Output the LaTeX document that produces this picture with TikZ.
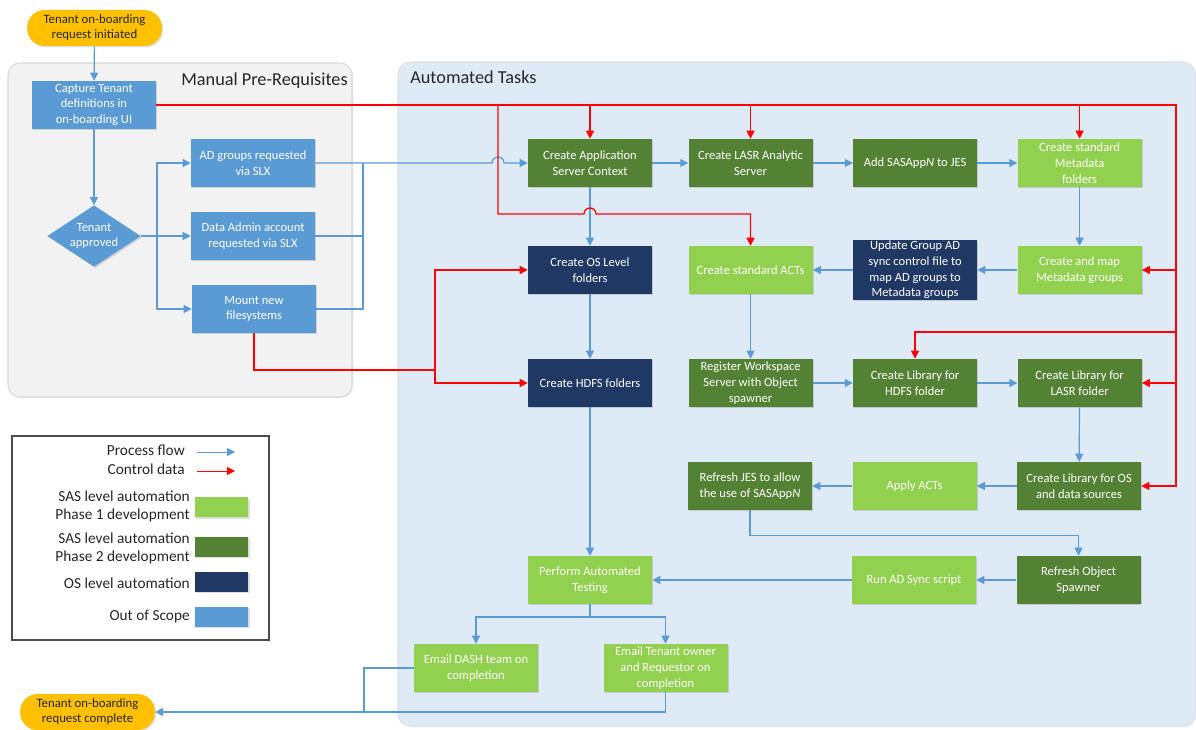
\documentclass[tikz,border=0pt]{standalone}
\usepackage{fontspec}
\setmainfont{Carlito}
\usepackage{tikz}
\usetikzlibrary{positioning, arrows.meta, shapes.geometric, shadows}

\definecolor{scopeblue}{HTML}{5B9BD5}
\definecolor{p1green}{HTML}{92D050}
\definecolor{p2green}{HTML}{548235}
\definecolor{osnavy}{HTML}{203864}
\definecolor{startorange}{HTML}{FFC000}
\definecolor{flowblue}{HTML}{5B9BD5}
\definecolor{ctrlred}{HTML}{FF0000}
\definecolor{manualgray}{HTML}{F2F2F2}
\definecolor{autoblue}{HTML}{DEEBF7}

\tikzset{
	task/.style={rectangle, minimum width=93pt, minimum height=36pt, inner xsep=1pt, inner ysep=0.5pt, align=center, text=white, font=\fontsize{9.4}{11.8}\selectfont, drop shadow={shadow xshift=1pt, shadow yshift=-1pt, opacity=0.3}},
	outbox/.style={task, fill=scopeblue},
	p1box/.style={task, fill=p1green},
	p2box/.style={task, fill=p2green},
	osbox/.style={task, fill=osnavy},
	terminal/.style={rectangle, rounded corners=13pt, fill=startorange, minimum width=101pt, minimum height=27pt, inner sep=1pt, align=center, text=black!85, font=\fontsize{9.6}{11.3}\selectfont, drop shadow={shadow xshift=1pt, shadow yshift=-1pt, opacity=0.25}},
	flow/.style={draw=flowblue, line width=0.9pt, -{Triangle[length=6pt,width=6pt]}},
	ctrl/.style={draw=ctrlred, line width=1pt, -{Triangle[length=6pt,width=6pt]}},
	panel/.style={rounded corners=9pt, line width=0.8pt, drop shadow={shadow xshift=1pt, shadow yshift=-1pt, opacity=0.15}},
	heading/.style={font=\fontsize{13.7}{16}\selectfont, text=black!85, inner sep=0pt},
	legendtext/.style={align=right, text=black!85, font=\fontsize{11.5}{13.5}\selectfont, inner sep=0pt},
	swatch/.style={minimum width=40pt, minimum height=15pt, inner sep=0pt, drop shadow={shadow xshift=1pt, shadow yshift=-1pt, opacity=0.25}}
}

\begin{document}
\begin{tikzpicture}[x=0.75pt, y=-0.75pt]
			\useasboundingbox (0,0) rectangle (1196,730);
			
			\draw[panel, draw=black!15, fill=manualgray] (8,63) rectangle (352,397);
			\draw[panel, draw=black!12, fill=autoblue] (398,62) rectangle (1195,726);
			\node[heading, anchor=east] (manualtitle) at (348,81) {Manual Pre-Requisites};
			\node[heading, anchor=west] (autotitle) at (410,77) {Automated Tasks};
			
			\node[terminal] (start) at (94.5,28) {Tenant on-boarding\\request initiated};
			\node[terminal] (finish) at (87.5,712) {Tenant on-boarding\\request complete};
			
			\node[outbox] (capture) at (94,105) {Capture Tenant\\definitions in\\on-boarding UI};
			\node[outbox, diamond, minimum width=70pt, minimum height=46pt, aspect=1.5, inner sep=0pt] (approved) at (94,236) {Tenant\\approved};
			\node[outbox] (adgroups) at (253,163) {AD groups requested\\via SLX};
			\node[outbox] (dataadmin) at (253,236) {Data Admin account\\requested via SLX};
			\node[outbox] (mountfs) at (254,309) {Mount new\\filesystems};
			
			\node[p2box] (app) at (590,163) {Create Application\\Server Context};
			\node[p2box, right=27pt of app] (lasr) {Create LASR Analytic\\Server};
			\node[p2box, right=30pt of lasr] (jes) {Add SASApp\textit{N} to JES};
			\node[p1box, right=30pt of jes] (mdfolders) {Create standard\\Metadata\\folders};
			
			\node[osbox] (oslevel) at (590,270) {Create OS Level\\folders};
			\node[p1box, right=27pt of oslevel] (acts) {Create standard ACTs};
			\node[osbox, right=30pt of acts] (adsync) {Update Group AD\\sync control file to\\map AD groups to\\Metadata groups};
			\node[p1box, right=30pt of adsync] (mdgroups) {Create and map\\Metadata groups};
			
			\node[osbox] (hdfs) at (590,383) {Create HDFS folders};
			\node[p2box, right=27pt of hdfs] (workspace) {Register Workspace\\Server with Object\\spawner};
			\node[p2box, right=30pt of workspace] (libhdfs) {Create Library for\\HDFS folder};
			\node[p2box, right=30pt of libhdfs] (liblasr) {Create Library for\\LASR folder};
			
			\node[p2box] (refjes) at (750,486) {Refresh JES to allow\\the use of SASApp\textit{N}};
			\node[p1box, right=30pt of refjes] (applyacts) {Apply ACTs};
			\node[p2box, right=30pt of applyacts] (libos) {Create Library for OS\\and data sources};
			
			\node[p1box] (testing) at (590,580) {Perform Automated\\Testing};
			\node[p1box] (runsync) at (914,580) {Run AD Sync script};
			\node[p2box, right=30pt of runsync] (refobj) {Refresh Object\\Spawner};
			
			\node[p1box] (maildash) at (476,668) {Email DASH team on\\completion};
			\node[p1box] (mailowner) at (665.5,668) {Email Tenant owner\\and Requestor on\\completion};
			
			\coordinate (split) at (157,236);
			\coordinate (merge) at (363,163);
			\coordinate (trunk) at (1176,105);
			\coordinate (tap) at (498,105);
			\coordinate (bend) at (498,214);
			\coordinate (hdfstap) at (1176,332);
			\coordinate (osjoin) at (435,370);
			\coordinate (fork) at (590,617);
			\coordinate (drop) at (364,712);
			
			\draw[flow] (start) -- (capture);
			\draw[flow] (capture) -- (approved);
			\draw[flow] (approved) -- (dataadmin);
			\draw[flow] (split) |- (adgroups.west);
			\draw[flow] (split) |- (mountfs.west);
			\draw[flow] (adgroups.east) -- (492,163) arc[start angle=180, end angle=0, radius=4.5pt] -- (app.west);
			\draw[flow, -] (dataadmin.east) -| (merge);
			\draw[flow, -] (mountfs.east) -| (merge);
			
			\draw[flow] (app) -- (lasr);
			\draw[flow] (lasr) -- (jes);
			\draw[flow] (jes) -- (mdfolders);
			\draw[flow] (mdfolders) -- (mdgroups);
			\draw[flow] (mdgroups) -- (adsync);
			\draw[flow] (adsync) -- (acts);
			\draw[flow] (acts) -- (workspace);
			\draw[flow] (workspace) -- (libhdfs);
			\draw[flow] (libhdfs) -- (liblasr);
			\draw[flow] (liblasr) -- (libos);
			\draw[flow] (libos) -- (applyacts);
			\draw[flow] (applyacts) -- (refjes);
			\draw[flow] (refjes.south) -- ++(0,25) -| (refobj.north);
			\draw[flow] (refobj) -- (runsync);
			\draw[flow] (runsync) -- (testing);
			\draw[flow] (app) -- (oslevel);
			\draw[flow] (oslevel) -- (hdfs);
			\draw[flow] (hdfs) -- (testing);
			\draw[flow, -] (testing.south) -- (fork);
			\draw[flow] (fork) -| (maildash.north);
			\draw[flow] (fork) -| (mailowner.north);
			\draw[flow, -] (maildash.west) -| (drop);
			\draw[flow] (mailowner.south) |- (finish.east);
			
			\draw[ctrl] (capture.east) -- (trunk) |- (libos.east);
			\draw[ctrl] (app.north |- trunk) -- (app.north);
			\draw[ctrl] (lasr.north |- trunk) -- (lasr.north);
			\draw[ctrl] (mdfolders.north |- trunk) -- (mdfolders.north);
			\draw[ctrl] (trunk |- mdgroups.east) -- (mdgroups.east);
			\draw[ctrl] (hdfstap) -| (libhdfs.north);
			\draw[ctrl] (trunk |- liblasr.east) -- (liblasr.east);
			\draw[ctrl] (tap) -- (bend) -- (584,214) arc[start angle=180, end angle=0, radius=4.5pt] -| (acts.north);
			\draw[ctrl, -] (mountfs.south) |- (osjoin);
			\draw[ctrl] (osjoin) |- (oslevel.west);
			\draw[ctrl] (osjoin) |- (hdfs.west);
			
			\draw[draw=black!70, line width=0.8pt] (12,436) rectangle (269,640);
			\node[legendtext, anchor=east] (lgflow) at (185,450) {Process flow};
			\node[legendtext, anchor=east] (lgctrl) at (185,469) {Control data};
			\coordinate (lgflowa) at (197,452);
			\coordinate (lgflowb) at (235,452);
			\coordinate (lgctrla) at (197,471);
			\coordinate (lgctrlb) at (235,471);
			\draw[flow, line width=0.6pt] (lgflowa) -- (lgflowb);
			\draw[ctrl, line width=0.6pt] (lgctrla) -- (lgctrlb);
			
			\node[swatch, fill=p1green] (lgone) at (221.5,507.5) {};
			\node[legendtext, anchor=east] (lgonetext) at (190,506) {SAS level automation\\Phase 1 development};
			\node[swatch, fill=p2green] (lgtwo) at (221.5,547) {};
			\node[legendtext, anchor=east] (lgtwotext) at (190,548) {SAS level automation\\Phase 2 development};
			\node[swatch, fill=osnavy] (lgos) at (221.5,582) {};
			\node[legendtext, anchor=east] (lgostext) at (190,583) {OS level automation};
			\node[swatch, fill=scopeblue] (lgscope) at (221.5,616.5) {};
			\node[legendtext, anchor=east] (lgscopetext) at (190,616) {Out of Scope};
\end{tikzpicture}
\end{document}
